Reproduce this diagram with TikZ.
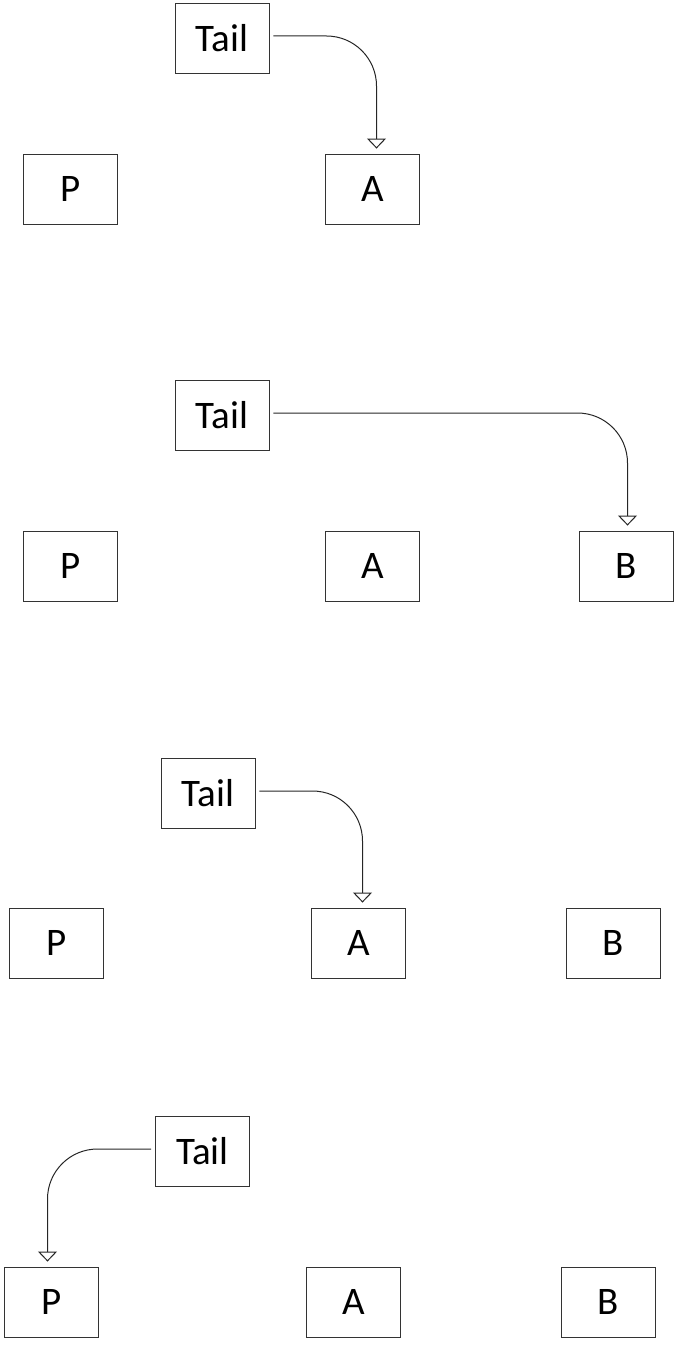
\documentclass[tikz,border=0pt]{standalone}
\usepackage{fontspec}
\setmainfont{Carlito}
\usetikzlibrary{arrows.meta}

\tikzset{
  cell/.style={draw=black!80, line width=0.9pt, fill=white, minimum width=94pt,
    minimum height=70pt, inner sep=0pt, font=\fontsize{39}{44}\selectfont},
  ptr/.style={draw=black!85, line width=1pt, rounded corners=50pt,
    -{Triangle[open, fill=white, width=19pt, length=10pt]},
    shorten <=4pt, shorten >=5pt},
}

\begin{document}
\begin{tikzpicture}[x=1pt, y=-1pt]
  \useasboundingbox (0,0) rectangle (680,1346);

  % Tail points at A
  \node[cell] (tail1) at (222,38) {Tail};
  \node[cell] (p1) at (70.5,189) {P};
  \node[cell] (a1) at (372.5,189) {A};
  \draw[ptr] ([yshift=2pt]tail1.east) -| ([xshift=4pt]a1.north);

  % Tail points at B
  \node[cell] (tail2) at (222,415) {Tail};
  \node[cell] (p2) at (70.5,566) {P};
  \node[cell] (a2) at (372.5,566) {A};
  \node[cell] (b2) at (626.5,566) {B};
  \draw[ptr] ([yshift=2pt]tail2.east) -| ([xshift=1pt]b2.north);

  % Tail back at A
  \node[cell] (tail3) at (208,793) {Tail};
  \node[cell] (p3) at (56.5,943) {P};
  \node[cell] (a3) at (358.5,943) {A};
  \node[cell] (b3) at (613,943) {B};
  \draw[ptr] ([yshift=2pt]tail3.east) -| ([xshift=4pt]a3.north);

  % Tail at P
  \node[cell] (tail4) at (202.5,1151) {Tail};
  \node[cell] (p4) at (51.5,1302) {P};
  \node[cell] (a4) at (353.5,1302) {A};
  \node[cell] (b4) at (608,1302) {B};
  \draw[ptr] ([yshift=2pt]tail4.west) -| ([xshift=-4pt]p4.north);
\end{tikzpicture}
\end{document}
